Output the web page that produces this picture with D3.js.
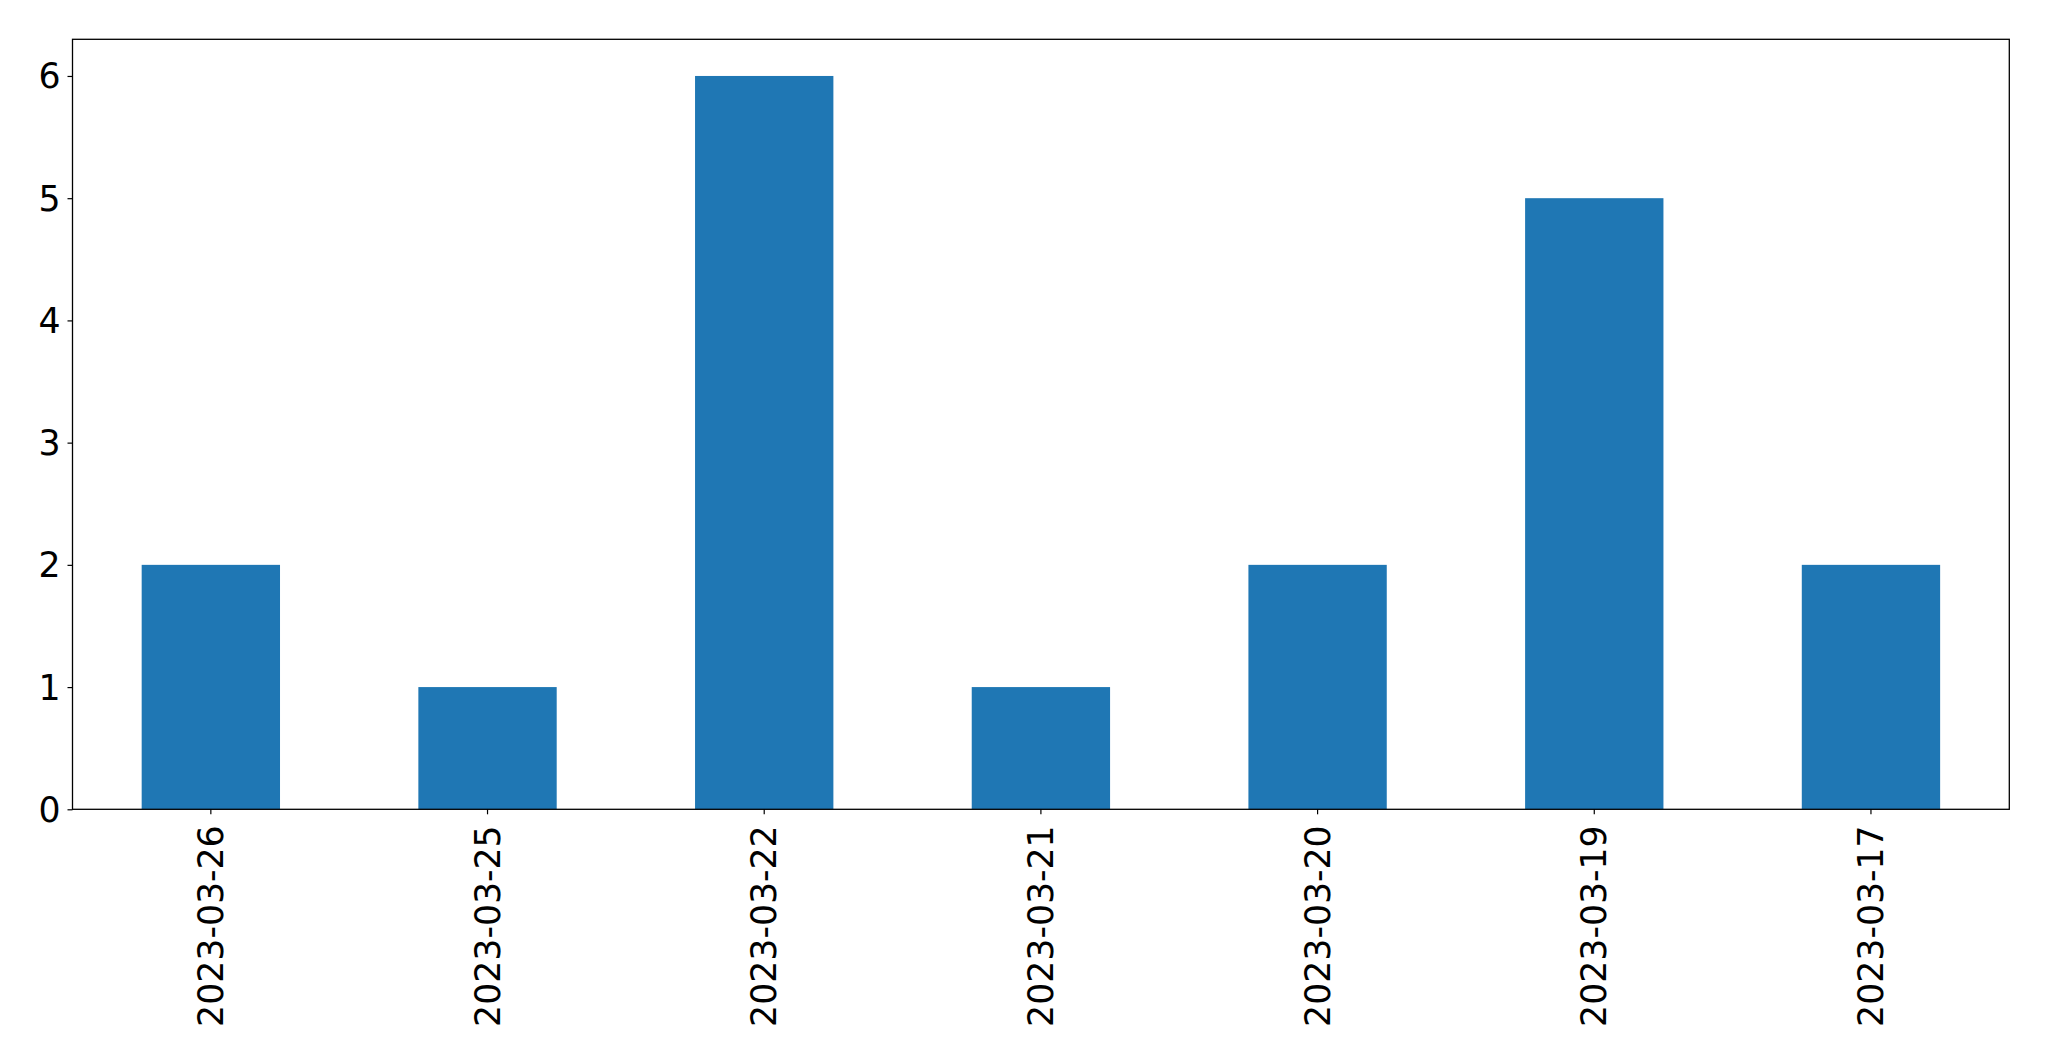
<!DOCTYPE html>
<html><head><meta charset="utf-8">
<script src="https://cdn.jsdelivr.net/npm/d3@7"></script>
<style>body{margin:0;background:#fff}svg{display:block}text{font-family:"DejaVu Sans",sans-serif;fill:#000}</style>
</head><body>
<svg id="c" width="2049" height="1061"></svg>
<script>
const categories = ["2023-03-26","2023-03-25","2023-03-22","2023-03-21","2023-03-20","2023-03-19","2023-03-17"];
const values = [2,1,6,1,2,5,2];
const yTicks = [0,1,2,3,4,5,6];

const L=72.5, R=2009.3, T=39.3, B=809.3;
const FS=34.7;
const svg=d3.select("#c");
const x=d3.scaleBand().domain(categories).range([L,R]).paddingInner(0.5).paddingOuter(0.25);
const y=d3.scaleLinear().domain([0,6.3]).range([B,T]);

svg.append("g").selectAll("rect").data(values).join("rect")
  .attr("x",(d,i)=>x(categories[i])).attr("width",x.bandwidth())
  .attr("y",d=>y(d)).attr("height",d=>B-y(d)).attr("fill","#1f77b4");

svg.append("rect").attr("x",L).attr("y",T).attr("width",R-L).attr("height",B-T)
  .attr("fill","none").attr("stroke","#000").attr("stroke-width",1.3);

const ya=d3.axisLeft(y).tickValues(yTicks).tickSize(5).tickPadding(7).tickFormat(d3.format("d"));
const gy=svg.append("g").attr("transform",`translate(${L},0)`).call(ya);
gy.select(".domain").remove();
gy.selectAll("line").attr("stroke","#000").attr("stroke-width",1.2);
gy.selectAll("text").attr("font-size",FS).attr("font-family","DejaVu Sans").attr("fill","#000")
  .attr("dy","0").attr("dominant-baseline","central");

const xa=d3.axisBottom(x).tickSize(5).tickPadding(12);
const gx=svg.append("g").attr("transform",`translate(0,${B})`).call(xa);
gx.select(".domain").remove();
gx.selectAll("line").attr("stroke","#000").attr("stroke-width",1.2);
gx.selectAll("text").attr("font-size",FS).attr("font-family","DejaVu Sans").attr("fill","#000")
  .attr("text-anchor","end").attr("dy","0").attr("y",0)
  .attr("dominant-baseline","central")
  .attr("transform","translate(0,16) rotate(-90)");
</script>
</body></html>
